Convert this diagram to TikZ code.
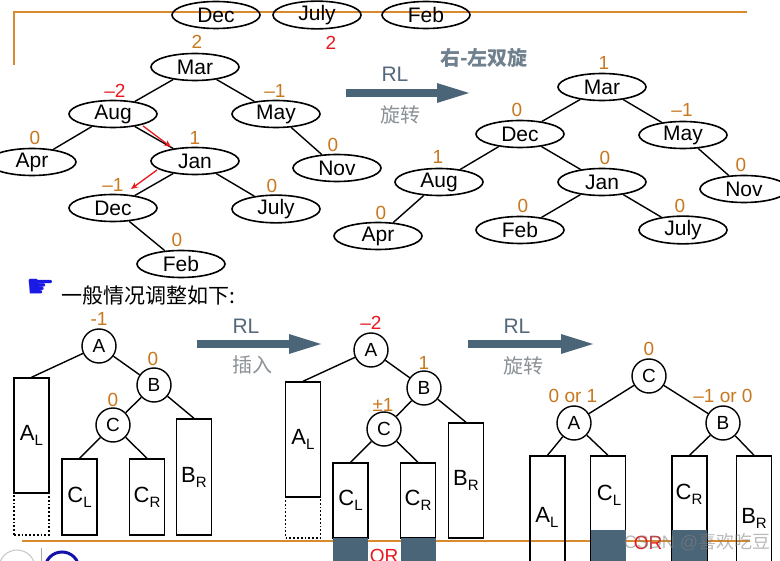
\documentclass[tikz,border=0pt]{standalone}
\usepackage{fontspec}
\setmainfont{Liberation Sans}
\newfontfamily\cjk{Noto Sans CJK SC}
\newfontfamily\symfont{DejaVu Sans}
\usetikzlibrary{shapes.geometric,arrows.meta}
\definecolor{balcol}{HTML}{C8781E}
\definecolor{framecol}{HTML}{D88A2E}
\definecolor{arrcol}{HTML}{4A6478}
\definecolor{rlcol}{HTML}{56697A}
\definecolor{cncol}{HTML}{8A9197}
\definecolor{handcol}{HTML}{1A1AE6}
\definecolor{redcol}{HTML}{E8191E}
\newcommand\setfs[1]{\fontsize{#1}{#1}\selectfont}
\newcommand\lowsub[1]{\raisebox{-5pt}{\setfs{15}#1}}
\tikzset{
  mon/.style={draw,ellipse,line width=1.6pt,minimum width=88pt,minimum height=27pt,inner sep=0pt,font=\setfs{21}},
  bal/.style={text=balcol,font=\setfs{19},inner sep=0pt},
  balred/.style={bal,text=redcol},
  edge/.style={line width=1.4pt},
  redarr/.style={redcol,line width=1.3pt,-{Stealth[length=7pt,width=6pt]}},
  letter/.style={draw,circle,line width=1.4pt,minimum size=34pt,inner sep=0pt,font=\setfs{19}},
  subtree/.style={draw,line width=1.4pt,minimum width=35pt,inner sep=0pt,font=\setfs{22}},
  dotbox/.style={draw,line width=1.5pt,dash pattern=on 1.8pt off 2pt,minimum width=35pt,inner sep=0pt},
  shade/.style={fill=arrcol,draw=none,minimum width=35pt,inner sep=0pt},
  bigarrow/.style={arrcol,line width=8pt,-{Triangle[length=36pt,width=17pt]}},
  rltext/.style={text=rlcol,font=\setfs{21},inner sep=0pt},
  cntext/.style={text=cncol,font=\cjk\setfs{20},inner sep=0pt},
  framel/.style={framecol,line width=1.3pt},
}
\begin{document}
\begin{tikzpicture}[x=1pt,y=-1pt]
  \useasboundingbox (0,0) rectangle (780,561);
  \clip (0,0) rectangle (780,561);
  \fill[white] (0,0) rectangle (780,561);
  % frame lines of the slide
  \draw[framel] (14,65) -- (14,12) -- (747,12);
  \draw[framel] (22,541) -- (750,541);
  % nodes left over at the top
  \node[mon] (tdec) at (216,15) {Dec};
  \node[mon] (tjul) at (317,15) {July};
  \node[mon] (tfeb) at (426,15) {Feb};
  \node[balred] (tb) at (331,43) {2};
  % tree before rotation
  \node[mon] (lmar) at (195,67) {Mar};
  \node[mon] (laug) at (113,114) {Aug};
  \node[mon] (lmay) at (276,114) {May};
  \node[mon] (lapr) at (32,162) {Apr};
  \node[mon] (ljan) at (195,161) {Jan};
  \node[mon] (lnov) at (337,168) {Nov};
  \node[mon] (ldec) at (113,208) {Dec};
  \node[mon] (ljul) at (276,209) {July};
  \node[mon] (lfeb) at (181,264) {Feb};
  \draw[edge] (lmar) -- (laug);
  \draw[edge] (lmar) -- (lmay);
  \draw[edge] (laug) -- (lapr);
  \draw[edge] (laug) -- (ljan);
  \draw[edge] (lmay) -- (lnov);
  \draw[edge] (ljan) -- (ldec);
  \draw[edge] (ljan) -- (ljul);
  \draw[edge] (ldec) -- (lfeb);
  \node[bal] (lb1) at (197,42) {2};
  \node[balred] (lb2) at (115,91) {–2};
  \node[bal] (lb3) at (275,91) {–1};
  \node[bal] (lb4) at (35,138) {0};
  \node[bal] (lb5) at (195,138) {1};
  \node[bal] (lb6) at (333,145) {0};
  \node[bal] (lb7) at (113,185) {–1};
  \node[bal] (lb8) at (272,186) {0};
  \node[bal] (lb9) at (177,240) {0};
  \coordinate (ra1) at (143,126);
  \coordinate (ra2) at (171,147);
  \coordinate (ra3) at (157,170);
  \coordinate (ra4) at (131,189);
  \draw[redarr] (ra1) -- (ra2);
  \draw[redarr] (ra3) -- (ra4);
  % rotation arrow
  \coordinate (a1s) at (346,93);
  \coordinate (a1e) at (473,93);
  \draw[bigarrow] (a1s) -- (a1e);
  \node[rltext] (rl1) at (395,74) {RL};
  \node[cntext] (cn1) at (400,115) {旋转};
  \node[text=rlcol!85,font=\cjk\bfseries\setfs{20},inner sep=0pt] (title) at (484,58) {右-左双旋};
  % tree after rotation
  \node[mon] (rmar) at (602,87) {Mar};
  \node[mon] (rdec) at (520,134) {Dec};
  \node[mon] (rmay) at (683,135) {May};
  \node[mon] (raug) at (439,182) {Aug};
  \node[mon] (rjan) at (602,182) {Jan};
  \node[mon] (rnov) at (744,189) {Nov};
  \node[mon] (rapr) at (378,236) {Apr};
  \node[mon] (rfeb) at (520,230) {Feb};
  \node[mon] (rjul) at (683,230) {July};
  \draw[edge] (rmar) -- (rdec);
  \draw[edge] (rmar) -- (rmay);
  \draw[edge] (rdec) -- (raug);
  \draw[edge] (rdec) -- (rjan);
  \draw[edge] (raug) -- (rapr);
  \draw[edge] (rjan) -- (rfeb);
  \draw[edge] (rjan) -- (rjul);
  \draw[edge] (rmay) -- (rnov);
  \node[bal] (rb1) at (604,63) {1};
  \node[bal] (rb2) at (517,110) {0};
  \node[bal] (rb3) at (682,110) {–1};
  \node[bal] (rb4) at (438,157) {1};
  \node[bal] (rb5) at (605,158) {0};
  \node[bal] (rb6) at (741,165) {0};
  \node[bal] (rb7) at (381,213) {0};
  \node[bal] (rb8) at (523,206) {0};
  \node[bal] (rb9) at (680,206) {0};
  % general case
  \node[text=handcol,font=\symfont\setfs{32},inner sep=0pt] (hand) at (41,288) {☛};
  \node[anchor=west,font=\cjk\setfs{21},inner sep=0pt] (gen) at (61,296) {一般情况调整如下:};
  % before insertion
  \node[letter] (ga) at (99,346) {A};
  \node[letter] (gb) at (154,385) {B};
  \node[letter] (gc) at (113,425) {C};
  \node[subtree,minimum height=115pt] (gal) at (31.5,435.5) {A\lowsub{L}};
  \node[dotbox,minimum height=42pt] (gdl) at (31.5,514) {};
  \node[subtree,minimum height=76pt] (gcl) at (79.5,497) {C\lowsub{L}};
  \node[subtree,minimum height=76pt] (gcr) at (147,497) {C\lowsub{R}};
  \node[subtree,minimum height=116pt] (gbr) at (194,477) {B\lowsub{R}};
  \draw[edge] (ga) -- (gal.north);
  \draw[edge] (ga) -- (gb);
  \draw[edge] (gb) -- (gc);
  \draw[edge] (gb) -- (gbr.north);
  \draw[edge] (gc) -- (gcl.north);
  \draw[edge] (gc) -- (gcr.north);
  \node[bal] (gb1) at (99,319) {-1};
  \node[bal] (gb2) at (153,359) {0};
  \node[bal] (gb3) at (113,400) {0};
  \coordinate (a2s) at (197,344);
  \coordinate (a2e) at (325,344);
  \draw[bigarrow] (a2s) -- (a2e);
  \node[rltext] (rl2) at (246,326) {RL};
  \node[cntext] (cn2) at (252,365) {插入};
  % after insertion
  \node[letter] (ia) at (371,350) {A};
  \node[letter] (ib) at (424,388) {B};
  \node[letter] (ic) at (384,429) {C};
  \node[subtree,minimum height=115pt] (ial) at (303,439.5) {A\lowsub{L}};
  \node[dotbox,minimum height=41pt] (idl) at (303,517.5) {};
  \node[subtree,minimum height=75pt] (icl) at (350.5,500.5) {C\lowsub{L}};
  \node[subtree,minimum height=75pt] (icr) at (418,500.5) {C\lowsub{R}};
  \node[subtree,minimum height=115pt] (ibr) at (466,480.5) {B\lowsub{R}};
  \node[shade,minimum height=27pt] (isl) at (350.5,551.5) {};
  \node[shade,minimum height=27pt] (isr) at (418,551.5) {};
  \draw[edge] (ia) -- (ial.north);
  \draw[edge] (ia) -- (ib);
  \draw[edge] (ib) -- (ic);
  \draw[edge] (ib) -- (ibr.north);
  \draw[edge] (ic) -- (icl.north);
  \draw[edge] (ic) -- (icr.north);
  \node[balred] (ib1) at (371,323) {–2};
  \node[bal] (ib2) at (424,363) {1};
  \node[bal] (ib3) at (383,405) {±1};
  \node[text=redcol,font=\setfs{19},inner sep=0pt] (ior) at (384,556) {OR};
  \coordinate (a3s) at (468,344);
  \coordinate (a3e) at (597,344);
  \draw[bigarrow] (a3s) -- (a3e);
  \node[rltext] (rl3) at (517,326) {RL};
  \node[cntext] (cn3) at (523,366) {旋转};
  % after rotation
  \node[letter] (fc) at (649,376) {C};
  \node[letter] (fa) at (574,423) {A};
  \node[letter] (fb) at (723,423) {B};
  \node[subtree,minimum height=119pt] (fal) at (547.5,515.5) {};
  \node[subtree,minimum height=119pt] (fcl) at (608,515.5) {};
  \node[subtree,minimum height=119pt] (fcr) at (689.5,515.5) {};
  \node[subtree,minimum height=119pt] (fbr) at (754,515.5) {};
  \node[shade,minimum height=40pt] (fsl) at (608,550) {};
  \node[shade,minimum height=40pt] (fsr) at (689.5,550) {};
  \draw[edge] (fc) -- (fa);
  \draw[edge] (fc) -- (fb);
  \draw[edge] (fa) -- (fal.north);
  \draw[edge] (fa) -- (fcl.north);
  \draw[edge] (fb) -- (fcr.north);
  \draw[edge] (fb) -- (fbr.north);
  \node[font=\setfs{22},inner sep=0pt] (fallab) at (547,517) {A\lowsub{L}};
  \node[font=\setfs{22},inner sep=0pt] (fcllab) at (609,495) {C\lowsub{L}};
  \node[font=\setfs{22},inner sep=0pt] (fcrlab) at (689,494) {C\lowsub{R}};
  \node[font=\setfs{22},inner sep=0pt] (fbrlab) at (754,518) {B\lowsub{R}};
  \node[bal] (fb1) at (649,349) {0};
  \node[bal] (fb2) at (573,396) {0 or 1};
  \node[bal] (fb3) at (723,396) {–1 or 0};
  \node[text=redcol,font=\setfs{19},inner sep=0pt] (for) at (648,543) {OR};
  \node[text=gray,opacity=.55,font=\setfs{18},inner sep=0pt] (wm) at (697,542) {CSDN @{\cjk 喜欢吃豆}};
  % logos at the bottom edge
  \draw[gray!45,line width=1pt] (17,568) circle (18);
  \draw[gray!70,line width=1pt] (41,548) -- (41,561);
  \draw[handcol!75!black,line width=3pt] (62,569) circle (17);
\end{tikzpicture}
\end{document}
